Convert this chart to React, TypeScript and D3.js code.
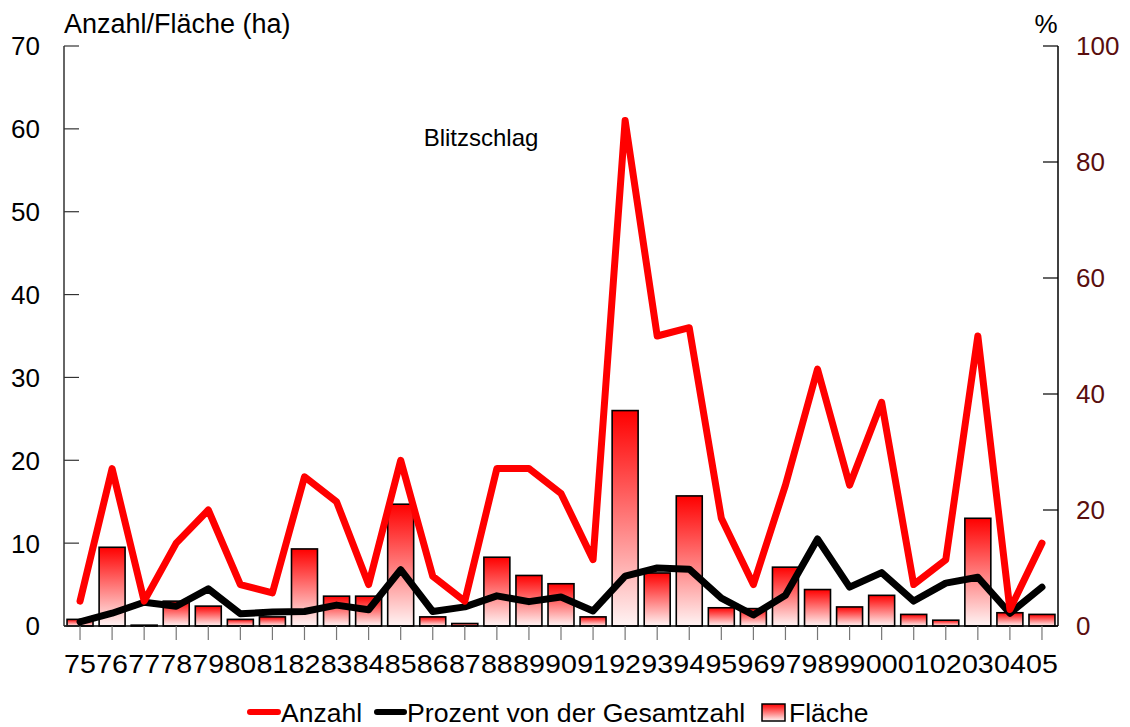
import React from 'react';
import * as d3 from 'd3';

const years = ["75","76","77","78","79","80","81","82","83","84","85","86","87","88","89","90","91","92","93","94","95","96","97","98","99","00","01","02","03","04","05"];
const anzahl = [3,19,3,10,14,5,4,18,15,5,20,6,3,19,19,16,8,61,35,36,13,5,17,31,17,27,5,8,35,2,10];
const prozent = [0.7,2.2,4.1,3.4,6.4,2.1,2.4,2.5,3.6,2.8,9.7,2.5,3.3,5.2,4.2,5.0,2.6,8.6,10.0,9.8,4.8,1.9,5.3,15.0,6.7,9.2,4.3,7.4,8.4,2.2,6.7];
const flaeche = [0.8,9.5,0.1,3.0,2.4,0.8,1.1,9.3,3.6,3.6,14.7,1.1,0.3,8.3,6.1,5.1,1.1,26.0,6.4,15.7,2.2,2.1,7.1,4.4,2.3,3.7,1.4,0.7,13.0,1.6,1.4];
const leftTicks = [0,10,20,30,40,50,60,70];
const rightTicks = [0,20,40,60,80,100];

const W = 1130, H = 727;
const L = 64, R = 1058, T = 46, B = 626;
const FONT = '"Liberation Sans", Arial, sans-serif';

export default function App() {
  const x = d3.scaleBand<string>().domain(years).range([L, R]).paddingInner(0.19).paddingOuter(0.095);
  const yL = d3.scaleLinear().domain([0, 70]).range([B, T]);
  const yR = d3.scaleLinear().domain([0, 100]).range([B, T]);
  const cx = (d: string) => (x(d) as number) + x.bandwidth() / 2;

  const lineA = d3.line<number>().x((_, i) => cx(years[i])).y(d => yL(d));
  const lineP = d3.line<number>().x((_, i) => cx(years[i])).y(d => yR(d));

  return (
    <div style={{ position: 'fixed', left: 0, top: 0 }}>
      <svg width={W} height={H} style={{ display: 'block', background: '#fff' }} fontFamily={FONT}>
        <defs>
          <linearGradient id="barGrad" x1="0" y1="0" x2="0" y2="1">
            <stop offset="0" stopColor="#ff0000" />
            <stop offset="1" stopColor="#fff4f4" />
          </linearGradient>
        </defs>

        {/* bars */}
        {flaeche.map((v, i) => (
          <rect key={'b' + i}
            x={x(years[i]) as number}
            y={yL(v)}
            width={x.bandwidth()}
            height={B - yL(v)}
            fill="url(#barGrad)"
            stroke="#000"
            strokeWidth={1.6} />
        ))}

        {/* axes */}
        <line x1={L} y1={T} x2={L} y2={B} stroke="#333" strokeWidth={1.5} />
        <line x1={R} y1={T} x2={R} y2={B} stroke="#000" strokeWidth={1.5} />
        <line x1={L} y1={B} x2={R} y2={B} stroke="#000" strokeWidth={1.5} />
        {leftTicks.map(t => (
          <g key={'lt' + t}>
            <line x1={L} x2={L + 15} y1={yL(t)} y2={yL(t)} stroke="#333" strokeWidth={1.2} />
            <text x={40} y={yL(t)} dy="0.36em" textAnchor="end" fontSize={26} fill="#000">{t}</text>
          </g>
        ))}
        {rightTicks.map(t => (
          <g key={'rt' + t}>
            <line x1={R - 15} x2={R} y1={yR(t)} y2={yR(t)} stroke="#000" strokeWidth={1.2} />
            <text x={1076} y={yR(t)} dy="0.36em" textAnchor="start" fontSize={26} fill="#5a0e0e">{t}</text>
          </g>
        ))}
        {years.map(yr => (
          <g key={'xt' + yr}>
            <line x1={cx(yr)} x2={cx(yr)} y1={B} y2={B + 14} stroke="#777" strokeWidth={1.2} />
            <text transform={`translate(${cx(yr)},${673}) scale(1.08,1)`} textAnchor="middle" fontSize={26.5} fill="#000">{yr}</text>
          </g>
        ))}

        {/* lines */}
        <path d={lineP(prozent) || ''} fill="none" stroke="#000" strokeWidth={7} strokeLinejoin="round" strokeLinecap="round" />
        <path d={lineA(anzahl) || ''} fill="none" stroke="#ff0000" strokeWidth={7} strokeLinejoin="round" strokeLinecap="round" />

        {/* titles */}
        <text x={64} y={33} fontSize={27} fill="#000">Anzahl/Fläche (ha)</text>
        <text x={1046} y={33} textAnchor="middle" fontSize={26} fill="#000">%</text>
        <text x={481} y={146} textAnchor="middle" fontSize={24} fill="#000">Blitzschlag</text>

        {/* legend */}
        <line x1={250} x2={278} y1={712} y2={712} stroke="#ff0000" strokeWidth={6} strokeLinecap="round" />
        <text x={281} y={722} fontSize={26.5} fill="#000">Anzahl</text>
        <line x1={377} x2={404} y1={712} y2={712} stroke="#000" strokeWidth={6} strokeLinecap="round" />
        <text x={407} y={722} fontSize={26.7} fill="#000">Prozent von der Gesamtzahl</text>
        <rect x={762} y={704} width={23} height={17} fill="url(#barGrad)" stroke="#000" strokeWidth={1.5} />
        <text x={789} y={722} fontSize={26.5} fill="#000">Fläche</text>
      </svg>
    </div>
  );
}
